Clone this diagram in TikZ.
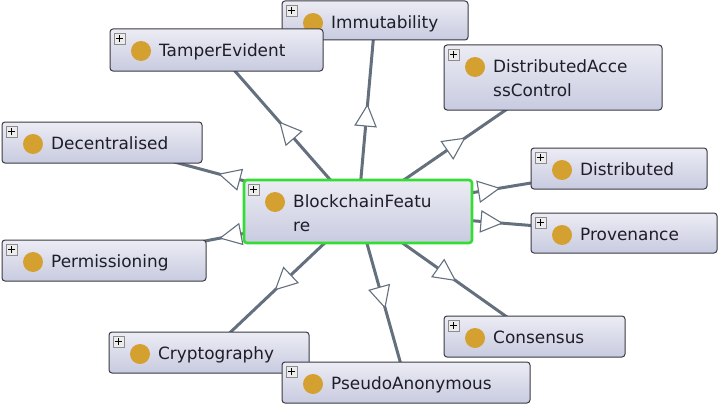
\documentclass[tikz,border=0pt]{standalone}
\usepackage{fontspec}
\setmainfont{DejaVu Sans}
\usetikzlibrary{backgrounds,decorations.markings}
\definecolor{edgecol}{RGB}{100,112,125}
\definecolor{boxtop}{RGB}{236,236,244}
\definecolor{boxbot}{RGB}{200,203,224}
\definecolor{boxline}{RGB}{58,58,68}
\definecolor{gold}{RGB}{212,160,48}
\definecolor{txtcol}{RGB}{30,30,40}
\definecolor{selgreen}{RGB}{51,221,51}
\tikzset{
  clsbox/.style={draw=boxline, line width=1pt, rounded corners=3pt, top color=boxtop, bottom color=boxbot, inner sep=0pt, outer sep=0pt, anchor=north west},
  selbox/.style={clsbox, draw=selgreen, line width=2.6pt},
  plusbox/.style={draw=gray!90, fill=white!85!gray, line width=0.7pt, minimum size=11pt, inner sep=0pt,
    path picture={\draw[black, line width=1.1pt] ([xshift=-3.5pt]path picture bounding box.center) -- ([xshift=3.5pt]path picture bounding box.center);
                  \draw[black, line width=1.1pt] ([yshift=-3.5pt]path picture bounding box.center) -- ([yshift=3.5pt]path picture bounding box.center);}},
  golddot/.style={circle, fill=gold, minimum size=20pt, inner sep=0pt},
  lbl/.style={anchor=base west, inner sep=0pt, text=txtcol, font=\fontsize{16.9}{24}\selectfont},
  edge/.style={draw=edgecol, line width=3pt,
    postaction={decorate, decoration={markings, mark=at position 0.5 with {\draw[draw=edgecol, fill=white, line width=1.1pt, line join=miter] (11,0) -- (-10,10.5) -- (-10,-10.5) -- cycle;}}}}
}
\newcommand\ontoclass[7]{%
  \node[#7, minimum width={#4pt-#2pt}, minimum height={#5pt-#3pt}] (#1) at (#2,#3) {};
  \node[plusbox] (#1-p) at ([xshift=9.5pt,yshift=-9.5pt]#1.north west) {};
  \node[golddot] (#1-d) at ([xshift=31pt,yshift=-22pt]#1.north west) {};
  \node[lbl] (#1-t) at ([xshift=49pt,yshift=-27.5pt]#1.north west) {#6};
}
\begin{document}
\begin{tikzpicture}[x=1pt,y=-1pt]
\useasboundingbox (0,0) rectangle (719,404);
\ontoclass{imm}{282}{1}{468}{40}{Immutability}{clsbox}
\ontoclass{tamp}{110}{29}{323}{71}{TamperEvident}{clsbox}
\ontoclass{dac}{444}{45}{662}{110}{DistributedAcce}{clsbox}
\node[lbl] (dac-t2) at ([xshift=49pt,yshift=-51.5pt]dac.north west) {ssControl};
\ontoclass{dist}{531}{148}{707}{189}{Distributed}{clsbox}
\ontoclass{prov}{531}{213}{717}{253}{Provenance}{clsbox}
\ontoclass{ctr}{244}{180}{472}{243}{BlockchainFeatu}{selbox}
\node[lbl] (ctr-t2) at ([xshift=49pt,yshift=-51.5pt]ctr.north west) {re};
\ontoclass{dec}{2}{122}{202}{163}{Decentralised}{clsbox}
\ontoclass{perm}{2}{240}{206}{281}{Permissioning}{clsbox}
\ontoclass{cryp}{109}{332}{309}{373}{Cryptography}{clsbox}
\ontoclass{pseudo}{282}{362}{530}{403}{PseudoAnonymous}{clsbox}
\ontoclass{cons}{444}{316}{625}{357}{Consensus}{clsbox}
\begin{pgfonlayer}{background}
\foreach \n in {imm,tamp,dac,dist,prov,dec,perm,cryp,pseudo,cons}{
  \path[edge] (ctr.center) -- (\n.center);
}
\end{pgfonlayer}
\end{tikzpicture}
\end{document}
